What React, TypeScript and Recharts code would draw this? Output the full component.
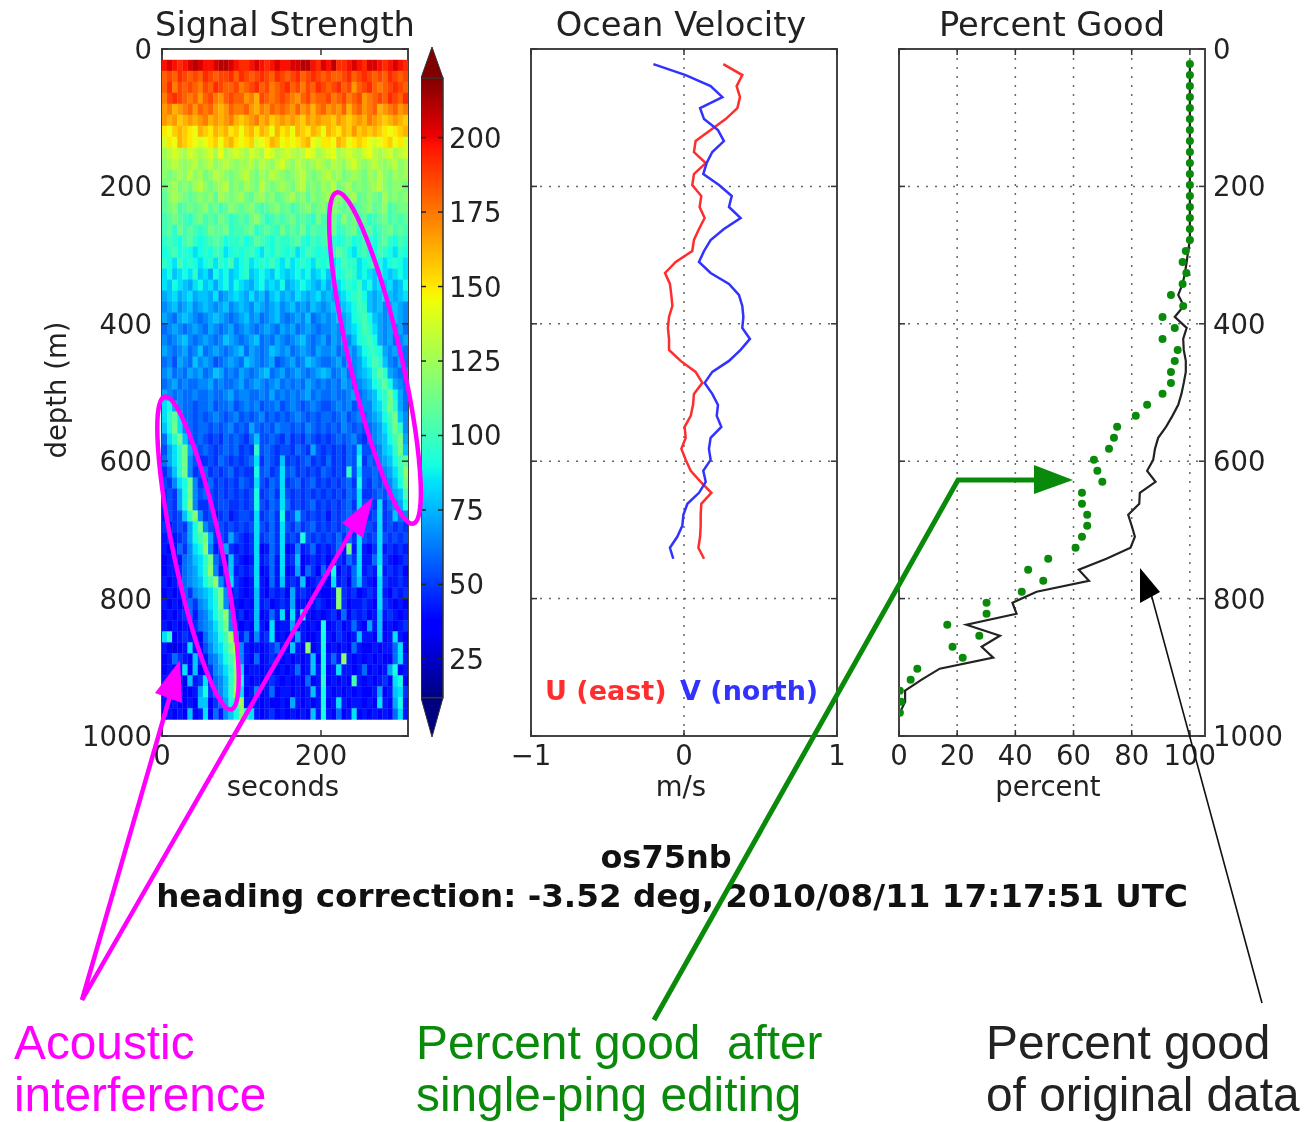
import React from 'react';
import {
  ScatterChart, Scatter, ComposedChart, Line, XAxis, YAxis, CartesianGrid, ReferenceArea,
} from 'recharts';

const depthTicks = [0, 200, 400, 600, 800, 1000];
const secondsTicks = [0, 200];
const velocityTicks = [-1, 0, 1];
const percentTicks = [0, 20, 40, 60, 80, 100];
const colorbarTicks = [25, 50, 75, 100, 125, 150, 175, 200];

const depths = [22, 38, 54, 70, 86, 102, 118, 134, 150, 166, 182, 198, 214, 230, 246, 262, 278, 294, 310, 326,
  342, 358, 374, 390, 406, 422, 438, 454, 470, 486, 502, 518, 534, 550, 566, 582, 598, 614, 630, 646,
  662, 678, 694, 710, 726, 742, 758, 774, 790, 806, 822, 838, 854, 870, 886, 902, 918, 934, 950, 966];

const uEast = [0.257, 0.381, 0.344, 0.366, 0.349, 0.272, 0.174, 0.076, 0.065, 0.142, 0.065, 0.054, 0.113, 0.102, 0.135, 0.098,
  0.065, 0.054, -0.054, -0.124, -0.092, -0.083, -0.076, -0.098, -0.105, -0.098, -0.098, -0.022, 0.076, 0.12, 0.065, 0.059,
  0.044, 0.004, 0.011, -0.017, 0.011, 0.044, 0.109, 0.179, 0.113, 0.109, 0.109, 0.105, 0.094, 0.131];
const vNorth = [-0.2, 0.011, 0.174, 0.251, 0.105, 0.131, 0.222, 0.261, 0.185, 0.148, 0.126, 0.229, 0.312, 0.294, 0.37, 0.261,
  0.174, 0.131, 0.098, 0.174, 0.294, 0.359, 0.381, 0.388, 0.381, 0.431, 0.37, 0.294, 0.185, 0.135, 0.185, 0.222,
  0.214, 0.244, 0.174, 0.163, 0.174, 0.126, 0.142, 0.098, 0.022, -0.004, -0.011, -0.044, -0.092, -0.07];

const pctOriginal = [100, 100, 100, 100, 100, 100, 100, 100, 100, 100, 100, 100, 100, 100, 100, 100, 100,
  99.4, 98.9, 98.3, 97.5, 96, 97.9, 94.8, 98.9, 97.7, 97.9, 98.6, 98.6, 97.9, 97.1, 96, 94, 91.8, 89.1, 88, 87.4, 85.3, 88.2,
  82.8, 82.6, 78.8, 80, 81.1, 79.6, 71.3, 61.8, 65.3, 47.3, 39, 40.4, 23.2, 34.7, 28.4, 32.4, 14, 7.8, 2.1, 2.1, 0.3];
const pctEdited = [100, 100, 100, 100, 100, 100, 100, 100, 100, 100, 100, 100, 100, 100, 100, 100, 100,
  98.6, 97.5, 98.8, 97.5, 93.5, 97.7, 90.6, 94.8, 90.6, 95.8, 94.8, 93.5, 93.5, 90.6, 85.3, 81.4, 75, 73.9, 72.2, 67, 68.2, 69.9,
  62.9, 62.9, 64.7, 64.7, 62.9, 60.7, 51.3, 44.4, 49.6, 42.2, 30.1, 30.1, 16.6, 27.6, 18.4, 21.9, 6.3, 4, 0.3, 0.7, 0.3];

const heatTimes = [3.2, 9.7, 16.1, 22.6, 29, 35.5, 41.9, 48.4, 54.8, 61.3, 67.7, 74.2, 80.6, 87.1, 93.5, 100, 106.4, 112.9, 119.3, 125.8,
  132.2, 138.7, 145.1, 151.6, 158, 164.5, 170.9, 177.4, 183.8, 190.3, 196.7, 203.2, 209.6, 216.1, 222.5, 229, 235.4, 241.9, 248.3, 254.8,
  261.2, 267.7, 274.1, 280.6, 287, 293.5, 299.9, 306.4];
const heatDepths = [24, 40, 56, 72, 88, 104, 120, 136, 152, 168, 184, 200, 216, 232, 248, 264, 280, 296, 312, 328,
  344, 360, 376, 392, 408, 424, 440, 456, 472, 488, 504, 520, 536, 552, 568, 584, 600, 616, 632, 648,
  664, 680, 696, 712, 728, 744, 760, 776, 792, 808, 824, 840, 856, 872, 888, 904, 920, 936, 952, 968];

// each character is a signal level in base 36, six counts per step
const signalRows = [
  'xyxwxyzy xxyzzyxw wxyxwxyx xyyzzxwy xzwwxyxw yyxwxyxw',
  'uvuwvuvu wvuvvwuw vuvwvuwv uvwuvwvu vuuvwuvw vuvuwvuv',
  'uwtvuvut vuwvuuvt uvwuvtuv wuvtvuwv uvwuvsuv wutuvwvu',
  'tvwvutus uvtsuvuu strvutuv utsuvtuu vtuvtuvs tuvuwvuw',
  'strstusu tusrsutt usrtsutu tsustrtu stsurtus turstust',
  'srsqrsrs trsrstrq rstrsqrs rsrqsrsr rqsrqrsr tsrqrsrq',
  'poqrqpor qprqrpqo qrprqorp qorqprqo rqprqsqr qrqpopqr',
  'nporqpon opqoqrpo pqnoprqo popqronp porqopqp onopqopn',
  'lmnmlnml mnlolmnm lnmlonlm nmlmonlm nolmnmln omlmnlmn',
  'klmlklmk lmklmlkl lmkmlkmn lkmlklml kmlkmnlk lmlklmkl',
  'kjklkmkl jkmlkjkl mkjlkmlk jklmkjkl mkljklkj lkmkjlkl',
  'jkljkjlm kjklmjkj lkjmkjkl kjlmjkjl kmjkljkj klmkjkkj',
  'iklkjijk jkilkjkl jikljkij kljkikjk ljkjklij kjiljkjk',
  'ijkhijij kijhikji jkihijki jhijkijk ikjijhij kijkhijj',
  'hijihgij hihjighi hjkighih ijhihgjh ijhkijhi ghijhihi',
  'higjhihg hjiijghh ijghihgj hihjgihh ijghijgh ighijhih',
  'ghgfhigf ghihfggh fgihgfhg ghigfhgh igfghfgh gfhigfhg',
  'fghfgfef gfhgefgf ghfegfhg fgefhgfg fgihfegh ffhgfegf',
  'gfehfgfe fgegfhef gefgfhfe gefgfegf gefhggef ghfefgfe',
  'efdefegd ecfefdef gdefedfe defefdef defghgef edfedefe',
  'edfedcef decefdfe dcefdedf cdefedce cdefgfhe fdedecdf',
  'cdecdecd dcebcded cecdbdec dcedcdec dcdefghf dcdedcde',
  'bcdbcdbc dcbcdbcd cbdcbcdb cdbcbdcb cdcdefhg dcdbcdcb',
  'cbacdcba bcdcbabc dbcabcdb abcbdabc bcdcdfgh fdcbcdcb',
  'abcbabcb acbabcab cbabcbac bcabcbab bcbcdefh gecbcbca',
  'babcdbab cbabdcba bcdabacb abcdbabc acbcbdfg hfcbcabc',
  'cbabcabd abcbabcd acbabdcb cabcbacb bcabcbdf ggfcbcba',
  'ab9cbadb cb9abcba dcbabc9a bcabdcba abcacbce fhgdbaca',
  'bcabacbc abdcabac babcdabc abcbabcd cabcabcd egigcbab',
  'abcabaab bcabaabc abcbabca babacbab abacbabc dfgifcba',
  'cbabaaba abaabcab baabacab ababcaba abaabcab cdfgjfca',
  'efcbaa9a ab9aab9a bab9aab9 aba9aba9 9abab9ab bdegjgca',
  'egieaa9a 9aba9ab9 a9ab9a9a 9aba9a9a a9ab9aba bcdfhjdb',
  'dfjeba9a a9a9ab9a 9ca9a9ba a9a9ba9a 9a9ba9a9 abcegjgb',
  'aegjda9a 9898a9a9 8ad99a98 a898a989 89a9ab98 abcdfhjc',
  '9cegjca9 a989a9a8 98g9a989 98a98c98 9898a9e9 9abdegjd',
  'acegjb98 898a9898 9ae8a98d 8989a898 a898a9f8 a9bcdfhi',
  '8adgjb89 a8989a89 88f9a89e 9a89898a 9898g9e9 9a9bcegk',
  '98befjb8 9a89898a 98e98a9e 89a89a89 8989a8f9 8a9abdfj',
  '898cfjb9 a9898989 89f89a8e 98989898 9898a9e8 89a9bcdh',
  '798cfkb8 89899889 89f98a9e a8989a89 8989a8e9 98e8abcf',
  '7989dgkb 89789789 98e89a8f 89d98989 7989a9e8 89e89dab',
  '87898cfj b9898989 89e98a8e 98a89a89 8989a8e9 98e89898',
  '78789cfh jc898c98 78e89a8e 898f9898 98a8a8e9 89e98989',
  '767a8bef kb78c878 78e67a8e 67b78a78 78a7j7e7 68e78787',
  '6767abde gja87d87 67e78a7e 78d67878 6787a8e7 7ae87678',
  '6778abce gkb78d78 78e67a7e 67c6a86a 7f687ae7 87f78786',
  '7678abcd fhkb8e87 67e76a7d 787d6787 6e786ad8 76e87787',
  '6767a8bc degjb787 67d76878 6c787676 67k87867 87e76878',
  '76767a8b cefjb876 76d78678 7c676787 67k86778 76e87676',
  '67678a7a bdfhkb78 67d67a7e 6e7f7676 786a6878 67d78767',
  '7676768a bcegjb76 76d76e67 7c67676f 67867a76 c7d67678',
  'eg678776 acdfhlb7 a6b78e67 67c7667f 768767d7 76d67e76',
  '76567e76 9bdegjmb 767678a7 6d76k67f 67676a76 67677ae6',
  '67a876d8 7abdfhkb 76a67876 76767d6f 7a7k7676 76766ae7',
  '6767e6d6 78bcegke 67767667 67a67d7f 67e7767a 6767cf67',
  '76766d78 e7abdgkf 76767876 7676a67g 67676h76 76786ef6',
  '6767667c f8abdgle 67b67a67 76767d7f 76767676 67c67de8',
  '7676676d d68acfhl 76767667 6c76767f 67e76776 76e76cf7',
  '67676d67 e6a7bdfk fe767867 67676d7f 76a67e67 67676ae7',
];

const jetStops = [0, 0.11, 0.125, 0.34, 0.35, 0.375, 0.64, 0.65, 0.66, 0.89, 0.91, 1];

const SIGNAL_MIN = 12;
const SIGNAL_MAX = 220;
const PANEL_H = 687;

const lerp = (t: number, pts: number[][]) => {
  if (t <= pts[0][0]) return pts[0][1];
  for (let i = 1; i < pts.length; i++) {
    if (t <= pts[i][0]) {
      const [a, b] = [pts[i - 1], pts[i]];
      return a[1] + ((t - a[0]) / (b[0] - a[0])) * (b[1] - a[1]);
    }
  }
  return pts[pts.length - 1][1];
};
const jet = (t: number) => {
  const r = lerp(t, [[0.35, 0], [0.66, 1], [0.89, 1], [1, 0.5]]);
  const g = lerp(t, [[0.125, 0], [0.375, 1], [0.64, 1], [0.91, 0]]);
  const b = lerp(t, [[0, 0.5], [0.11, 1], [0.34, 1], [0.65, 0]]);
  return `rgb(${Math.round(r * 255)},${Math.round(g * 255)},${Math.round(b * 255)})`;
};
const signalColor = (v: number) => jet(Math.min(1, Math.max(0, (v - SIGNAL_MIN) / (SIGNAL_MAX - SIGNAL_MIN))));

const heatCells = signalRows.flatMap((row, r) => {
  const chars = row.replace(/ /g, '');
  return heatTimes.map((t, c) => ({
    t,
    depth: heatDepths[r],
    signal: parseInt(chars[c] ?? chars[chars.length - 1], 36) * 6,
  }));
});
const velocityTable = uEast.map((u, i) => ({ depth: depths[i], u, v: vNorth[i] }));
const percentTable = depths.map((depth, i) => ({ depth, original: pctOriginal[i], edited: pctEdited[i] }));

const FONT = '"DejaVu Sans", sans-serif';
const TICK_PX = 27.5;
const INK = '#333';
const FRAME = '#444';

const makeXTick = (plotH: number) => (p: any) => {
  const { x, y, payload } = p;
  return (
    <g>
      <line x1={x} x2={x} y1={y} y2={y - 6} stroke={INK} strokeWidth={1.5} />
      <line x1={x} x2={x} y1={y - plotH} y2={y - plotH + 6} stroke={INK} strokeWidth={1.5} />
      <text x={x} y={y + 29} textAnchor="middle" fontFamily={FONT} fontSize={TICK_PX} fill="#222">
        {String(payload.value).replace('-', '\u2212')}
      </text>
    </g>
  );
};
const makeYTick = (plotW: number, side: 'left' | 'right' | 'none') => (p: any) => {
  const { x, y, payload } = p;
  const left = side === 'right' ? x - plotW : x;
  const right = left + plotW;
  return (
    <g>
      <line x1={left} x2={left + 6} y1={y} y2={y} stroke={INK} strokeWidth={1.5} />
      <line x1={right} x2={right - 6} y1={y} y2={y} stroke={INK} strokeWidth={1.5} />
      {side !== 'none' && (
        <text
          x={side === 'left' ? left - 10 : right + 8}
          y={y + 10}
          textAnchor={side === 'left' ? 'end' : 'start'}
          fontFamily={FONT}
          fontSize={TICK_PX}
          fill="#222"
        >
          {payload.value}
        </text>
      )}
    </g>
  );
};

const HeatCell = (p: any) => {
  const { cx, cy, payload } = p;
  return <rect x={cx - 2.7} y={cy - 5.7} width={5.4} height={11.4} fill={signalColor(payload.signal)} />;
};

const at = (left: number, width: number): React.CSSProperties => ({
  position: 'absolute', left, top: 0, width, height: 820,
});

const margin = (left: number, right: number) => ({ top: 49, right, left, bottom: 20 });
const GRID_DASH = '2 7';

const SignalPanel = () => (
  <div style={at(0, 416)} className="heat">
    <ScatterChart width={416} height={820} margin={margin(0, 8)}>
      <XAxis type="number" dataKey="t" domain={[0, 309.4]} ticks={secondsTicks} interval={0} allowDataOverflow
        axisLine={false} tickLine={false} tickSize={0} tickMargin={0} height={64} tick={makeXTick(PANEL_H)} />
      <YAxis type="number" dataKey="depth" domain={[0, 1000]} reversed ticks={depthTicks} interval={0} allowDataOverflow
        axisLine={false} tickLine={false} tickSize={0} tickMargin={0} width={162} tick={makeYTick(246, 'left')} />
      <Scatter data={heatCells} isAnimationActive={false} shape={HeatCell} />
      <ReferenceArea x1={0} x2={309.4} y1={0} y2={1000} fill="none" stroke={FRAME} strokeWidth={2} ifOverflow="visible" />
    </ScatterChart>
  </div>
);

const colorbarMain = (p: any) => <rect x={p.x} y={p.y} width={p.width} height={p.height} fill="url(#jetBar)" stroke="#333" strokeWidth={1.5} />;
const colorbarTop = (p: any) => (
  <path d={`M${p.x} ${p.y + p.height}L${p.x + p.width / 2} ${p.y}L${p.x + p.width} ${p.y + p.height}Z`} fill={jet(1)} stroke="#333" strokeWidth={1} />
);
const colorbarBottom = (p: any) => (
  <path d={`M${p.x} ${p.y}L${p.x + p.width / 2} ${p.y + p.height}L${p.x + p.width} ${p.y}Z`} fill={jet(0)} stroke="#333" strokeWidth={1} />
);
const colorbarTick = (p: any) => {
  const { x, y, payload } = p;
  return (
    <g>
      <line x1={x} x2={x - 5} y1={y} y2={y} stroke="#222" strokeWidth={1.5} />
      <line x1={x - 22} x2={x - 17} y1={y} y2={y} stroke="#222" strokeWidth={1.5} />
      <text x={x + 6} y={y + 10} fontFamily={FONT} fontSize={TICK_PX} fill="#222">{payload.value}</text>
    </g>
  );
};

const colorbarTable = colorbarTicks.map((level) => ({ level, pos: 0.5 }));

const ColorbarPanel = () => (
  <div style={{ position: 'absolute', left: 421, top: 47, width: 90, height: 690 }}>
    <ComposedChart width={90} height={690} data={colorbarTable} margin={{ top: 0, right: 0, bottom: 0, left: 0 }}>
      <defs>
        <linearGradient id="jetBar" x1="0" y1="1" x2="0" y2="0">
          {jetStops.map((s) => <stop key={s} offset={s} stopColor={jet(s)} />)}
        </linearGradient>
      </defs>
      <XAxis type="number" dataKey="pos" hide domain={[0, 1]} allowDataOverflow />
      <YAxis type="number" orientation="right" domain={[-1.2, 230.4]} ticks={colorbarTicks} interval={0} allowDataOverflow
        axisLine={false} tickLine={false} tickSize={0} tickMargin={0} width={68} tick={colorbarTick} />
      <ReferenceArea x1={0} x2={1} y1={220} y2={230.4} shape={colorbarTop} ifOverflow="visible" />
      <ReferenceArea x1={0} x2={1} y1={-1.2} y2={12} shape={colorbarBottom} ifOverflow="visible" />
      <ReferenceArea x1={0} x2={1} y1={12} y2={220} shape={colorbarMain} ifOverflow="visible" />
    </ComposedChart>
  </div>
);

const VelocityPanel = () => (
  <div style={{ ...at(505, 360) }}>
    <ComposedChart layout="vertical" width={360} height={820} data={velocityTable} margin={margin(0, 28)}>
      <CartesianGrid stroke="#666" strokeWidth={1.5} strokeDasharray={GRID_DASH} />
      <XAxis type="number" domain={[-1, 1]} ticks={velocityTicks} interval={0} allowDataOverflow
        axisLine={false} tickLine={false} tickSize={0} tickMargin={0} height={64} tick={makeXTick(PANEL_H)} />
      <YAxis type="number" dataKey="depth" domain={[0, 1000]} ticks={depthTicks} interval={0} allowDataOverflow
        axisLine={false} tickLine={false} tickSize={0} tickMargin={0} width={26} tick={makeYTick(306, 'none')} />
      <Line dataKey="u" stroke="#ff2d2d" strokeWidth={2.5} dot={false} isAnimationActive={false} />
      <Line dataKey="v" stroke="#3232ff" strokeWidth={2.5} dot={false} isAnimationActive={false} />
      <ReferenceArea x1={-1} x2={1} y1={0} y2={1000} fill="none" stroke={FRAME} strokeWidth={2} ifOverflow="visible" />
    </ComposedChart>
  </div>
);

const PercentPanel = () => (
  <div style={{ ...at(875, 430) }}>
    <ComposedChart layout="vertical" width={430} height={820} data={percentTable} margin={margin(24, 0)}>
      <CartesianGrid stroke="#666" strokeWidth={1.5} strokeDasharray={GRID_DASH} />
      <XAxis type="number" domain={[0, 105.2]} ticks={percentTicks} interval={0} allowDataOverflow
        axisLine={false} tickLine={false} tickSize={0} tickMargin={0} height={64} tick={makeXTick(PANEL_H)} />
      <YAxis orientation="right" type="number" dataKey="depth" domain={[0, 1000]} ticks={depthTicks} interval={0} allowDataOverflow
        axisLine={false} tickLine={false} tickSize={0} tickMargin={0} width={100} tick={makeYTick(306, 'right')} />
      <Line dataKey="original" stroke="#222" strokeWidth={2.2} dot={false} isAnimationActive={false} />
      <Line dataKey="edited" stroke="none" dot={{ r: 4, fill: '#0a8a0a', stroke: 'none' }} isAnimationActive={false} />
      <ReferenceArea x1={0} x2={105.2} y1={0} y2={1000} fill="none" stroke={FRAME} strokeWidth={2} ifOverflow="visible" />
    </ComposedChart>
  </div>
);

const MAGENTA = '#ff00ff';
const GREEN = '#0a8a0a';
const SANS = '"Liberation Sans", Arial, sans-serif';

const Overlay = () => (
  <svg width={1305} height={1122} style={{ position: 'absolute', left: 0, top: 0, pointerEvents: 'none' }}>
    <g fontFamily={FONT} fill="#222">
      <text x={285} y={36} fontSize={33.7} textAnchor="middle">Signal Strength</text>
      <text x={681} y={36} fontSize={33.7} textAnchor="middle">Ocean Velocity</text>
      <text x={1052} y={36} fontSize={33.7} textAnchor="middle">Percent Good</text>
      <text x={283} y={796} fontSize={TICK_PX} textAnchor="middle">seconds</text>
      <text x={681} y={796} fontSize={TICK_PX} textAnchor="middle">m/s</text>
      <text x={1048} y={796} fontSize={TICK_PX} textAnchor="middle">percent</text>
      <text transform="translate(66 390) rotate(-90)" fontSize={TICK_PX} textAnchor="middle">depth (m)</text>
      <text x={666} y={868} fontSize={32} fontWeight="bold" textAnchor="middle" fill="#111">os75nb</text>
      <text x={672} y={907} fontSize={32.6} fontWeight="bold" textAnchor="middle" fill="#111">heading correction: -3.52 deg, 2010/08/11 17:17:51 UTC</text>
      <text x={545} y={700} fontSize={27} fontWeight="bold" fill="#ff2d2d">U (east)</text>
      <text x={680} y={700} fontSize={27} fontWeight="bold" fill="#3232ff">V (north)</text>
    </g>

    <g fill="none" stroke={MAGENTA} strokeWidth={4.5}>
      <ellipse cx={198} cy={553} rx={24} ry={160} transform="rotate(-12 198 553)" />
      <ellipse cx={375} cy={358} rx={26} ry={170} transform="rotate(-13 375 358)" />
      <path d="M170 696L82 1000L352 530" />
    </g>
    <g fill={MAGENTA}>
      <polygon points="180,660 155,693 182,703" />
      <polygon points="373,497 342,523 363,538" />
    </g>

    <path d="M654 1020L958 480L1040 480" fill="none" stroke={GREEN} strokeWidth={5} />
    <polygon points="1073,480 1034,465 1034,494" fill={GREEN} />

    <path d="M1262 1003L1150 590" fill="none" stroke="#111" strokeWidth={1.6} />
    <polygon points="1140,568 1140,603 1160,592" fill="#000" />

    <g fontFamily={SANS} fontSize={47.8}>
      <text x={14} y={1059} fill={MAGENTA}>Acoustic</text>
      <text x={14} y={1111} fill={MAGENTA}>interference</text>
      <text x={416} y={1059} fill={GREEN} xmlSpace="preserve">Percent good  after</text>
      <text x={416} y={1111} fill={GREEN}>single-ping editing</text>
      <text x={986} y={1059} fill="#222">Percent good</text>
      <text x={986} y={1111} fill="#222">of original data</text>
    </g>
  </svg>
);

export default function App() {
  return (
    <div style={{ position: 'absolute', left: 0, top: 0, width: 1305, height: 1122, background: '#fff', overflow: 'hidden', filter: 'blur(0.5px)' }}>
      <style>{`.heat .recharts-scatter{filter:blur(0.5px)}`}</style>
      <SignalPanel />
      <ColorbarPanel />
      <VelocityPanel />
      <PercentPanel />
      <Overlay />
    </div>
  );
}
